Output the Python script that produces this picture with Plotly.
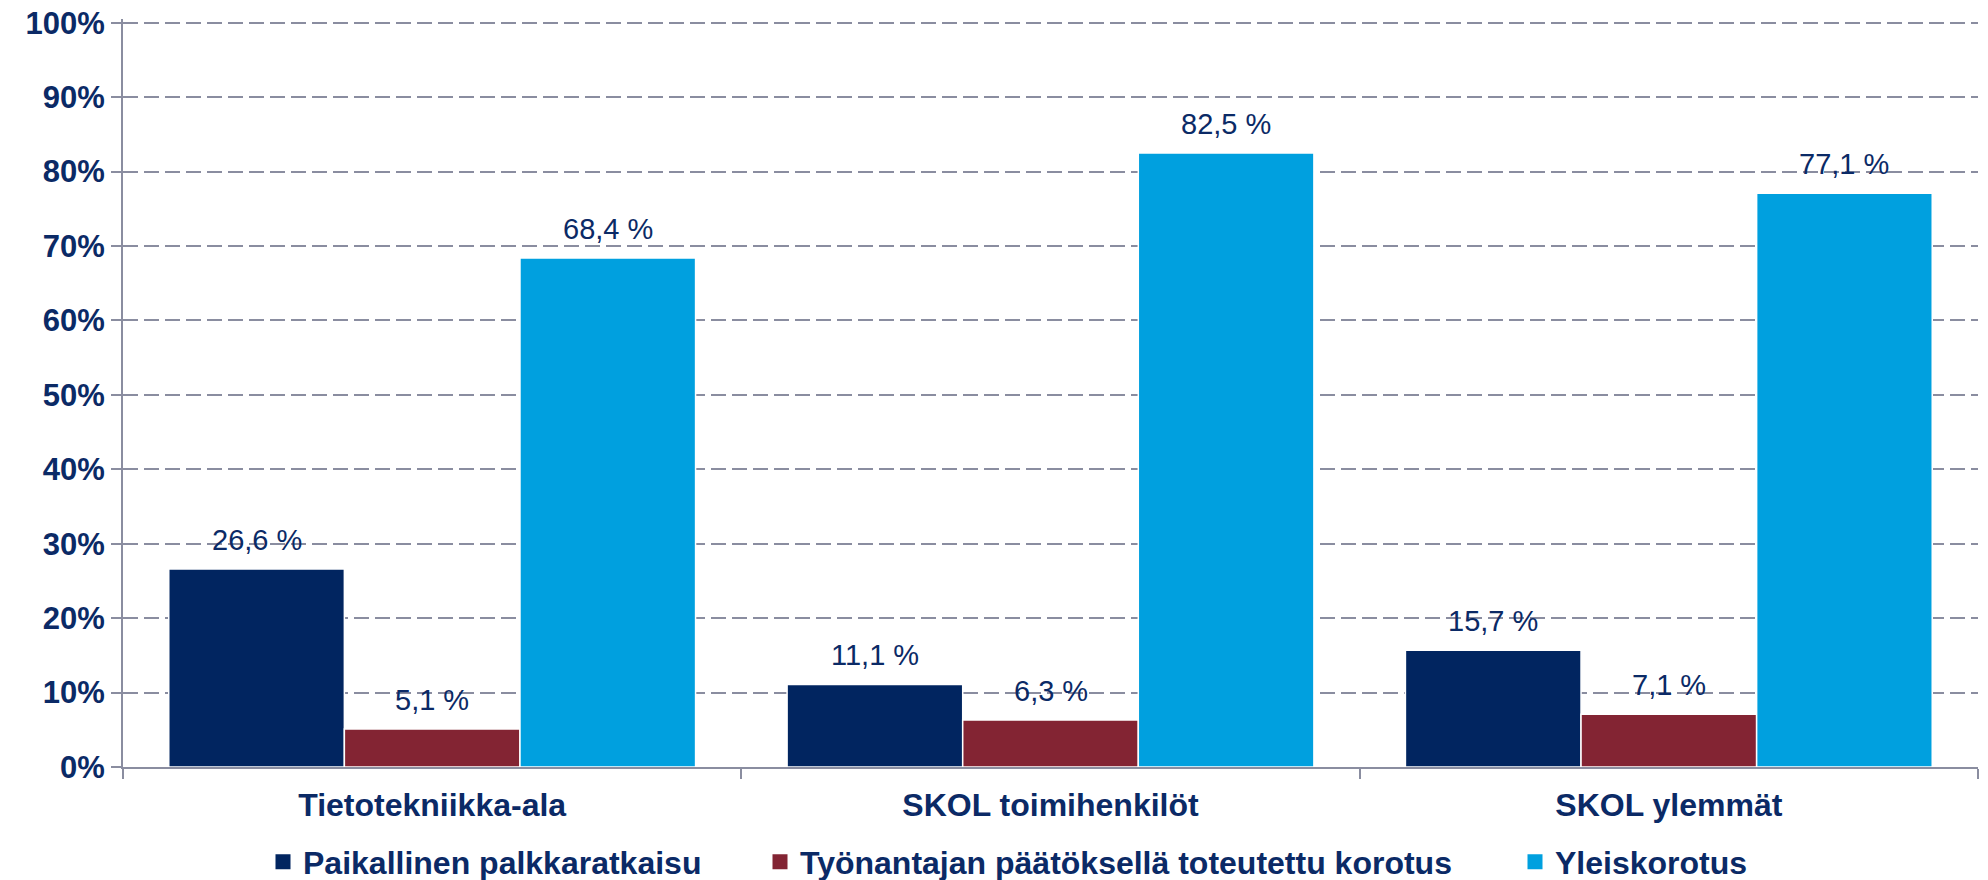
import plotly.graph_objects as go

categories = ["Tietotekniikka-ala", "SKOL toimihenkilöt", "SKOL ylemmät"]
series_names = ["Paikallinen palkkaratkaisu",
                "Työnantajan päätöksellä toteutettu korotus",
                "Yleiskorotus"]
paikallinen = [26.6, 11.1, 15.7]
tyonantaja = [5.1, 6.3, 7.1]
yleis = [68.4, 82.5, 77.1]
y_ticks = [0, 10, 20, 30, 40, 50, 60, 70, 80, 90, 100]
y_ticktext = [f"{v}%" for v in y_ticks]

colors = ["#012560", "#832433", "#00A0DF"]
navy = "#0B2A66"
gridc = "#8A8DA0"
FONT = "Liberation Sans, Arial, sans-serif"

W, H = 1988, 880
ML, MR, MT, MB = 123, 10, 19, 113
BARGAP = 0.148
legend_px = [263, 760, 1515]   # left edges of legend entries (px)

fig = go.Figure()
series = [paikallinen, tyonantaja, yleis]
bw = (1 - BARGAP) / len(series)
annotations = []
for k, (name, vals, col) in enumerate(zip(series_names, series, colors)):
    lg = "legend" if k == 0 else f"legend{k+1}"
    fig.add_trace(go.Bar(
        x=categories, y=vals, name=name, showlegend=False,
        marker=dict(color=col, line=dict(color="white", width=1.5)),
    ))
    # legend entry with a square swatch
    fig.add_trace(go.Scatter(
        x=[None], y=[None], mode="markers", name=name, legend=lg,
        marker=dict(symbol="square", size=15, color=col),
    ))
    for i, v in enumerate(vals):
        annotations.append(dict(
            x=i + (k - 1) * bw, y=v, xref="x", yref="y",
            text=f"{v:.1f}".replace(".", ",") + " %",
            showarrow=False, yanchor="middle", yshift=29,
            font=dict(family=FONT, size=29, color=navy),
        ))

legend_common = dict(orientation="h", yref="container", y=18 / H,
                     yanchor="middle", xref="container", xanchor="left",
                     font=dict(family=FONT, size=32, color=navy, weight="bold"),
                     itemwidth=30, bgcolor="rgba(0,0,0,0)")
legends = {}
for k, px in enumerate(legend_px):
    key = "legend" if k == 0 else f"legend{k+1}"
    legends[key] = dict(legend_common, x=px / W)

fig.update_layout(
    width=W, height=H,
    barmode="group", bargap=BARGAP, bargroupgap=0,
    plot_bgcolor="white", paper_bgcolor="white",
    margin=dict(l=ML, r=MR, t=MT, b=MB, autoexpand=False),
    font=dict(family=FONT, color=navy),
    showlegend=True,
    annotations=annotations,
    **legends,
)
fig.update_yaxes(
    range=[0, 100.5], tickvals=y_ticks, ticktext=y_ticktext,
    tickfont=dict(family=FONT, size=31, color=navy, weight="bold"),
    showgrid=True, gridcolor=gridc, griddash="15px,6px", gridwidth=2,
    showline=True, linecolor=gridc, linewidth=2,
    ticks="outside", ticklen=10, tickcolor=gridc, tickwidth=2,
    zeroline=False, automargin=False,
)
fig.update_xaxes(
    tickfont=dict(family=FONT, size=32, color=navy, weight="bold"),
    showline=True, linecolor=gridc, linewidth=2,
    ticks="outside", tickson="boundaries", ticklen=10, tickcolor=gridc, tickwidth=2,
    automargin=False, ticklabelstandoff=9,
)

fig.write_html("out.html", config={"displayModeBar": False},
               post_script="document.body.style.margin='0';document.body.style.padding='0';")
